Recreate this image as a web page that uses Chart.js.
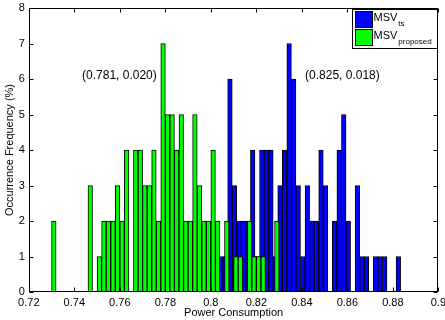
<!DOCTYPE html>
<html>
<head>
<meta charset="utf-8">
<script src="https://cdn.jsdelivr.net/npm/chart.js@4.4.1/dist/chart.umd.min.js"></script>
<style>
  html, body { margin: 0; padding: 0; background: #fff; }
</style>
</head>
<body>
<canvas id="hist" width="445" height="320"></canvas>
<script>
// MSV_proposed histogram: bin centres and occurrence frequency (%)
const binsProposed = [0.731, 0.747, 0.751, 0.753, 0.755, 0.757, 0.759, 0.761, 0.763,
  0.767, 0.769, 0.771, 0.773, 0.775, 0.777, 0.779, 0.781, 0.783, 0.785, 0.787, 0.789,
  0.791, 0.793, 0.795, 0.797, 0.799, 0.801, 0.803, 0.807, 0.811, 0.813, 0.817, 0.819,
  0.821, 0.823, 0.829];
const freqProposed = [2, 3, 1, 2, 2, 2, 3, 2, 4,
  4, 4, 3, 3, 4, 2, 7, 5, 5, 4, 5, 2,
  2, 5, 3, 2, 2, 4, 2, 2, 1, 1, 2, 1,
  1, 1, 2];

// MSV_ts histogram
const binsTs = [0.8044, 0.8064, 0.8084, 0.8104, 0.8124, 0.8144, 0.8164, 0.8184, 0.8204,
  0.8224, 0.8244, 0.8264, 0.8284, 0.8304, 0.8324, 0.8344, 0.8364, 0.8384, 0.8404,
  0.8424, 0.8444, 0.8464, 0.8484, 0.8504, 0.8544, 0.8564, 0.8584, 0.8604, 0.8644,
  0.8664, 0.8684, 0.8724, 0.8744, 0.8764, 0.8824];
const freqTs = [1, 1, 6, 3, 2, 2, 2, 4, 1,
  4, 4, 4, 1, 3, 4, 7, 6, 3, 1,
  3, 2, 2, 4, 3, 2, 4, 5, 2, 3,
  1, 1, 1, 1, 1, 1];

const xTicks = [0.72, 0.74, 0.76, 0.78, 0.8, 0.82, 0.84, 0.86, 0.88, 0.9];
const xTickLabels = ['0.72', '0.74', '0.76', '0.78', '0.8', '0.82', '0.84', '0.86', '0.88', '0.9'];
const yTicks = [0, 1, 2, 3, 4, 5, 6, 7, 8];

const statLabels = ['(0.781, 0.020)', '(0.825, 0.018)'];

const FONT = '"Liberation Sans", Helvetica, Arial, sans-serif';

function toPoints(xs, ys) {
  return xs.map((x, i) => ({ x: x, y: ys[i] }));
}

// matlab style box, inward ticks, mean/std labels and legend
const matlabBox = {
  id: 'matlabBox',
  afterDatasetsDraw(chart) {
    const ctx = chart.ctx;
    const a = chart.chartArea;
    const x = chart.scales.x;
    const y = chart.scales.y;
    const L = Math.round(a.left) + 0.5, R = Math.round(a.right) - 0.5;
    const T = Math.round(a.top) + 0.5, B = Math.round(a.bottom) - 0.5;
    ctx.save();
    ctx.strokeStyle = '#000';
    ctx.lineWidth = 1;
    ctx.strokeRect(L, T, R - L, B - T);
    ctx.beginPath();
    xTicks.forEach(v => {
      const px = Math.round(x.getPixelForValue(v)) + 0.5;
      ctx.moveTo(px, B); ctx.lineTo(px, B - 4);
      ctx.moveTo(px, T); ctx.lineTo(px, T + 4);
    });
    yTicks.forEach(v => {
      const py = Math.round(y.getPixelForValue(v)) + 0.5;
      ctx.moveTo(L, py); ctx.lineTo(L + 4, py);
      ctx.moveTo(R, py); ctx.lineTo(R - 4, py);
    });
    ctx.stroke();

    ctx.fillStyle = '#000';
    ctx.font = '12px ' + FONT;
    ctx.textBaseline = 'middle';
    ctx.textAlign = 'left';
    ctx.fillText(statLabels[0], x.getPixelForValue(0.7434), y.getPixelForValue(6.1));
    ctx.fillText(statLabels[1], x.getPixelForValue(0.8414), y.getPixelForValue(6.1));

    // legend
    const lx = 352.5, ly = 9.5, lw = 85, lh = 39;
    ctx.fillStyle = '#fff';
    ctx.fillRect(lx, ly, lw, lh);
    ctx.strokeRect(lx, ly, lw, lh);
    const items = [
      { color: '#0000ff', main: 'MSV', sub: 'ts' },
      { color: '#00ff00', main: 'MSV', sub: 'proposed' }
    ];
    items.forEach((it, i) => {
      const top = ly + 2 + i * 18;
      ctx.fillStyle = it.color;
      ctx.fillRect(lx + 3, top, 17, 16);
      ctx.strokeRect(lx + 3, top, 17, 16);
      ctx.fillStyle = '#000';
      ctx.textBaseline = 'alphabetic';
      ctx.font = '11px ' + FONT;
      ctx.fillText(it.main, lx + 21, top + 9);
      const w = ctx.measureText(it.main).width;
      ctx.font = '8px ' + FONT;
      ctx.fillText(it.sub, lx + 22 + w, top + 14);
    });
    ctx.restore();
  }
};

// one histogram bin (0.002) is about 4.55 px wide
const barStyle = {
  borderColor: '#000',
  borderWidth: 1,
  borderSkipped: false,
  grouped: false,
  barThickness: 4.55,
  barPercentage: 1,
  categoryPercentage: 1
};

new Chart(document.getElementById('hist'), {
  type: 'bar',
  data: {
    datasets: [
      Object.assign({ label: 'MSV proposed', data: toPoints(binsProposed, freqProposed),
        xAxisID: 'x', backgroundColor: '#00ff00', order: 0 }, barStyle),
      Object.assign({ label: 'MSV ts', data: toPoints(binsTs, freqTs),
        xAxisID: 'xb', backgroundColor: '#0000ff', order: 1 }, barStyle)
    ]
  },
  options: {
    responsive: false,
    animation: false,
    layout: { padding: { top: 8, right: 6.6, left: 0, bottom: 0 } },
    plugins: { legend: { display: false }, tooltip: { enabled: false } },
    scales: {
      x: {
        type: 'linear', min: 0.72, max: 0.9, offset: false,
        grid: { display: false, drawTicks: false },
        border: { display: false },
        afterBuildTicks(s) { s.ticks = xTicks.map(v => ({ value: v })); },
        ticks: {
          autoSkip: false, maxRotation: 0, padding: 4, color: '#000',
          font: { family: FONT, size: 11 },
          callback: (v, i) => xTickLabels[i]
        },
        title: { display: true, text: 'Power Consumption', color: '#000',
          font: { family: FONT, size: 11 }, padding: { top: 0, bottom: 0 } },
        afterFit(s) { s.height = 28; s.paddingLeft = 0; s.paddingRight = 0; }
      },
      xb: {
        type: 'linear', display: false, min: 0.72, max: 0.9, offset: false,
        afterBuildTicks(s) { s.ticks = xTicks.map(v => ({ value: v })); }
      },
      y: {
        min: 0, max: 8,
        grid: { display: false, drawTicks: false },
        border: { display: false },
        afterBuildTicks(s) { s.ticks = yTicks.map(v => ({ value: v })); },
        ticks: { padding: 4, color: '#000', font: { family: FONT, size: 11 } },
        title: { display: true, text: 'Occurrence Frequency (%)', color: '#000',
          font: { family: FONT, size: 11 }, padding: { top: 3, bottom: 0 } },
        afterFit(s) { s.width = 28.8; s.paddingTop = 0; s.paddingBottom = 0; }
      }
    }
  },
  plugins: [matlabBox]
});
</script>
</body>
</html>
